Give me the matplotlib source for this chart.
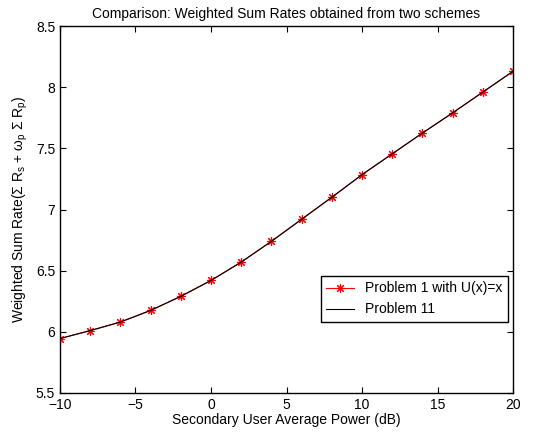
import matplotlib.pyplot as plt
import numpy as np

plt.rcParams['font.family'] = ['Liberation Sans', 'DejaVu Sans']
plt.rcParams['mathtext.fontset'] = 'custom'
plt.rcParams['mathtext.rm'] = 'Liberation Sans'
plt.rcParams['mathtext.it'] = 'Liberation Sans:italic'

power_db = [-10, -8, -6, -4, -2, 0, 2, 4, 6, 8, 10, 12, 14, 16, 18, 20]
rate_p1 = [5.945, 6.01, 6.08, 6.175, 6.29, 6.42, 6.57, 6.74, 6.92, 7.10,
           7.285, 7.455, 7.625, 7.79, 7.96, 8.13]
rate_p11 = rate_p1

fig = plt.figure(figsize=(5.39, 4.34), dpi=100)
ax = fig.add_axes([0.1113, 0.0945, 0.8405, 0.8455])

ax.plot(power_db, rate_p1, color='red', marker=(8, 2, 0), markersize=6.5,
        markeredgewidth=0.8, linewidth=0.8, label='Problem 1 with U(x)=x')
ax.plot(power_db, rate_p11, color='black', linewidth=0.8, label='Problem 11')

ax.set_xlim(-10, 20)
ax.set_ylim(5.5, 8.5)
ax.set_xticks(np.arange(-10, 21, 5))
ax.set_yticks(np.arange(5.5, 8.51, 0.5))
ax.set_xticklabels(['\u221210', '\u22125', '0', '5', '10', '15', '20'])
ax.set_yticklabels(['5.5', '6', '6.5', '7', '7.5', '8', '8.5'])
ax.tick_params(direction='in', top=True, right=True, labelsize=10, length=4)
for s in ax.spines.values():
    s.set_linewidth(1.0)

ax.set_title('Comparison: Weighted Sum Rates obtained from two schemes', fontsize=10)
ax.set_xlabel('Secondary User Average Power (dB)', fontsize=10, labelpad=1)
ax.set_ylabel(r'Weighted Sum Rate($\Sigma$ R$_\mathrm{s}$ + $\mathrm{\omega}_\mathrm{p}$ $\Sigma$ R$_\mathrm{p}$)',
              fontsize=10)

leg = ax.legend(loc='upper right', bbox_to_anchor=(0.989, 0.319), fontsize=10,
                fancybox=False, framealpha=1, edgecolor='black', borderaxespad=0)
leg.get_frame().set_linewidth(1.0)

fig.savefig('out.png', dpi=100)
